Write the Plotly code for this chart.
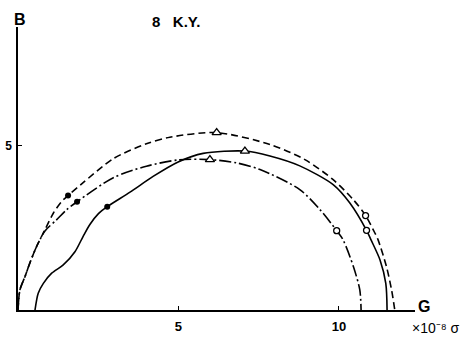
import plotly.graph_objects as go

# Curve 1 (dashed)
g_dash = [0.0, 0.06, 0.22, 0.37, 0.58, 0.84, 1.10, 1.36, 1.56, 2.03, 2.97, 4.0, 4.73,
          6.19, 7.85, 8.94, 9.82, 10.45, 10.83, 11.12, 11.22, 11.48, 11.64, 11.74]
b_dash = [0.0, 0.61, 1.02, 1.43, 1.93, 2.44, 2.94, 3.30, 3.48, 3.87, 4.60, 5.05, 5.25,
          5.39, 5.03, 4.57, 3.96, 3.35, 2.87, 2.34, 2.13, 1.32, 0.61, 0.0]

# Curve 2 (solid)
g_solid = [0.53, 0.63, 0.79, 1.05, 1.41, 1.78, 2.03, 2.24, 2.50, 2.78, 3.49, 4.21, 4.99,
           5.77, 7.07, 7.85, 8.78, 9.82, 10.34, 10.86, 11.0, 11.28, 11.46, 11.50]
b_solid = [0.0, 0.51, 0.81, 1.12, 1.37, 1.78, 2.24, 2.60, 2.92, 3.14, 3.58, 4.06, 4.50,
           4.76, 4.83, 4.68, 4.38, 3.81, 3.25, 2.42, 2.13, 1.52, 0.81, 0.0]

# Curve 3 (dash-dot)
g_dd = [0.0, 0.06, 0.22, 0.37, 0.58, 0.84, 1.2, 1.52, 1.84, 2.97, 4.0, 4.99, 5.98,
        6.81, 7.54, 8.78, 9.41, 9.93, 10.13, 10.45, 10.65, 10.69]
b_dd = [0.0, 0.61, 1.02, 1.43, 1.93, 2.40, 2.74, 3.05, 3.29, 4.02, 4.37, 4.56, 4.57,
        4.47, 4.27, 3.66, 3.05, 2.41, 2.13, 1.32, 0.61, 0.0]

# Marked points: filled dots, triangles, open circles
dot_g = [1.56, 2.78, 1.84]
dot_b = [3.48, 3.14, 3.29]
tri_g = [6.19, 7.07, 5.98]
tri_b = [5.39, 4.83, 4.57]
circ_g = [10.83, 10.86, 9.93]
circ_b = [2.87, 2.42, 2.41]

x_ticks = [5, 10]
y_ticks = [5]

FONT = "Liberation Sans"

fig = go.Figure()

line_w = 1.6
smooth = 0.8
fig.add_trace(go.Scatter(x=g_dash, y=b_dash, mode="lines",
                         line=dict(color="black", width=line_w, dash="7px,4px",
                                   shape="spline", smoothing=smooth)))
fig.add_trace(go.Scatter(x=g_solid, y=b_solid, mode="lines",
                         line=dict(color="black", width=line_w,
                                   shape="spline", smoothing=smooth)))
fig.add_trace(go.Scatter(x=g_dd, y=b_dd, mode="lines",
                         line=dict(color="black", width=line_w, dash="12px,3px,2px,3px",
                                   shape="spline", smoothing=smooth)))

fig.add_trace(go.Scatter(x=dot_g, y=dot_b, mode="markers",
                         marker=dict(symbol="circle", size=6, color="black")))
fig.add_trace(go.Scatter(x=tri_g, y=tri_b, mode="markers",
                         marker=dict(symbol="triangle-up", size=8, color="white",
                                     line=dict(color="black", width=1.3))))
fig.add_trace(go.Scatter(x=circ_g, y=circ_b, mode="markers",
                         marker=dict(symbol="circle", size=6, color="white",
                                     line=dict(color="black", width=1.3))))

L, T, W, H = 18, 27, 397, 283
fig.update_layout(
    width=464, height=343,
    margin=dict(l=L, r=464 - L - W, t=T, b=343 - T - H, autoexpand=False),
    paper_bgcolor="white", plot_bgcolor="white",
    showlegend=False,
    font=dict(family=FONT, color="black"),
    xaxis=dict(range=[0, 12.37], showgrid=False, zeroline=False,
               showline=True, linecolor="black", linewidth=1.5,
               tickvals=x_ticks, ticktext=[str(v) for v in x_ticks],
               ticks="inside", ticklen=4, tickcolor="black", tickwidth=1,
               ticklabelstandoff=4,
               tickfont=dict(size=13, family=FONT, weight="bold"),
               automargin=False),
    yaxis=dict(range=[0, 8.6], showgrid=False, zeroline=False,
               showline=True, linecolor="black", linewidth=1.5,
               tickvals=y_ticks, ticktext=[str(v) for v in y_ticks],
               ticks="inside", ticklen=4, tickcolor="black", tickwidth=1,
               ticklabelstandoff=2,
               tickfont=dict(size=12, family=FONT, weight="bold"),
               automargin=False),
)

def px_x(px):
    return (px - L) / W

def px_y(py):
    return (T + H - py) / H

ann = [
    dict(text="B", x=px_x(20), y=px_y(19), size=16, weight="bold"),
    dict(text="8   K.Y.", x=px_x(176), y=px_y(21), size=15, weight="bold"),
    dict(text="G", x=px_x(424), y=px_y(306), size=16, weight="bold"),
    dict(text="×10⁻⁸ σ", x=px_x(436), y=px_y(328), size=14, weight="normal"),
]
for a in ann:
    fig.add_annotation(text=a["text"], x=a["x"], y=a["y"], xref="paper", yref="paper",
                       showarrow=False, xanchor="center", yanchor="middle",
                       font=dict(size=a["size"], family=FONT, color="black",
                                 weight=a["weight"]))

fig.write_html("out.html")
